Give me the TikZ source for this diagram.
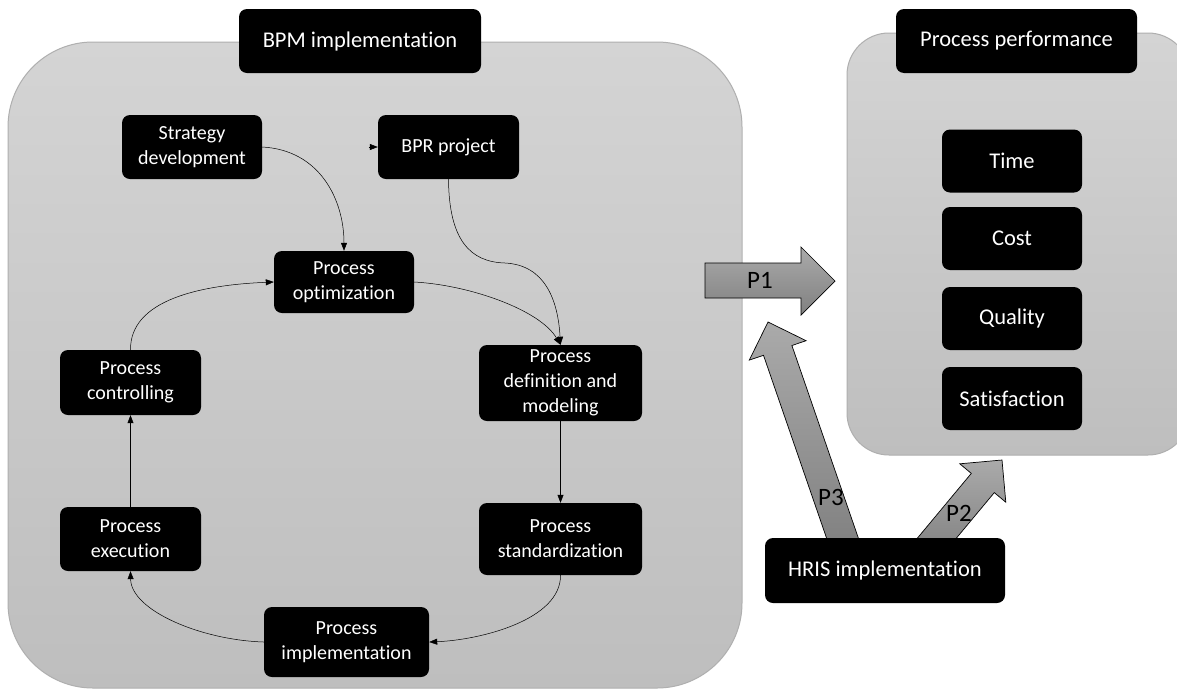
\documentclass[tikz,border=0pt]{standalone}
\usepackage{fontspec}
\setmainfont{Carlito}[Ligatures={NoCommon,NoContextual,NoRare}]
\usetikzlibrary{arrows.meta,calc}
\definecolor{panelTop}{RGB}{212,212,212}
\definecolor{panelBot}{RGB}{190,190,190}
\definecolor{panelEdge}{RGB}{175,175,175}
\definecolor{arrTop}{RGB}{170,170,170}
\definecolor{arrBot}{RGB}{128,128,128}
\begin{document}
\begin{tikzpicture}[x=1pt,y=-1pt,
  blk/.style={fill=black, rounded corners=8pt, text=white, align=center, inner sep=0pt},
  small/.style={blk, font=\fontsize{20}{25}\selectfont},
  big/.style={blk, font=\fontsize{22.5}{27}\selectfont},
  arr/.style={-{Triangle[length=8pt,width=6pt]}, line width=0.5pt, draw=black},
  panel/.style={top color=panelTop, bottom color=panelBot, draw=panelEdge, line width=1pt},
  parrow/.style={top color=arrTop, bottom color=arrBot, draw=black, line width=0.7pt, line join=miter},
  plabel/.style={font=\fontsize{25}{30}\selectfont, text=black, inner sep=0pt}
]
\useasboundingbox (0,0) rectangle (1177,689);
\fill[white] (0,0) rectangle (1177,689);

% panels
\path[panel, rounded corners=85pt] (8,42) rectangle (742,688);
\path[panel, rounded corners=42pt] (847,33) rectangle (1190,455);

% headers
\node[big, minimum width=242pt, minimum height=64pt] (bpm) at (360,41) {BPM implementation};
\node[big, minimum width=241pt, minimum height=64pt] (pp) at (1016.5,41) {Process performance};

% left boxes
\node[small, minimum width=140pt, minimum height=64pt] (strat) at (192,147) {Strategy\\development};
\node[small, minimum width=141pt, minimum height=64pt] (bpr) at (448.5,147) {BPR project};
\node[small, minimum width=140pt, minimum height=62pt] (opt) at (344,282) {Process\\optimization};
\node[small, minimum width=163pt, minimum height=76pt] (def) at (560.5,383) {Process\\definition and\\modeling};
\node[small, minimum width=163pt, minimum height=72pt] (std) at (560.5,539) {Process\\standardization};
\node[small, minimum width=165pt, minimum height=70pt] (impl) at (346.5,642) {Process\\implementation};
\node[small, minimum width=141pt, minimum height=65pt] (ctrl) at (130.5,382.5) {Process\\controlling};
\node[small, minimum width=141pt, minimum height=64pt] (exec) at (130.5,539) {Process\\execution};

% right boxes
\node[big, minimum width=140pt, minimum height=63pt] (time) at (1012,161) {Time};
\node[big, minimum width=140pt, minimum height=63pt] (cost) at (1012,238.5) {Cost};
\node[big, minimum width=140pt, minimum height=63pt] (qual) at (1012,318.5) {Quality};
\node[big, minimum width=140pt, minimum height=63pt] (sat) at (1012,398.5) {Satisfaction};

% connectors
\coordinate (bprin) at ($(bpr.west)+(-9,0)$);
\draw[arr] (bprin) -- (bpr.west);
\draw[arr] (strat.east) .. controls (320,150) and (344,200) .. (opt.north);
\draw[arr] (bpr.south) .. controls (449,240) and (470,262) .. (505,263) .. controls (545,265) and (558,300) .. (def.north);
\draw[arr] (opt.east) .. controls (470,285) and (540,310) .. (def.north);
\draw[arr] (def.south) -- (std.north);
\draw[arr] (std.south) .. controls (561,620) and (480,640) .. (impl.east);
\draw[arr] (impl.west) .. controls (200,640) and (131,610) .. (exec.south);
\draw[arr] (exec.north) -- (ctrl.south);
\draw[arr] (ctrl.north) .. controls (130,300) and (200,285) .. (opt.west);

% block arrows
\path[parrow] (705,263) -- (801,263) -- (801,247) -- (835,281) -- (801,315) -- (801,298) -- (705,298) -- cycle;
\path[parrow] (831.5,552.4) -- (763.5,355.3) -- (749.3,360.1) -- (768,322) -- (806.1,340.7) -- (791.9,345.5) -- (859.9,542.6) -- cycle;
\path[parrow] (915.9,539.9) -- (971.3,473.4) -- (959.8,463.8) -- (1002,460) -- (1005.8,502.2) -- (994.3,492.6) -- (938.9,559.1) -- cycle;
\node[plabel] (p1) at (760,280) {P1};
\node[plabel] (p3) at (831,497) {P3};
\node[plabel] (p2) at (959,513) {P2};

\node[big, minimum width=240pt, minimum height=65pt] (hris) at (885,570.5) {HRIS implementation};
\end{tikzpicture}
\end{document}
